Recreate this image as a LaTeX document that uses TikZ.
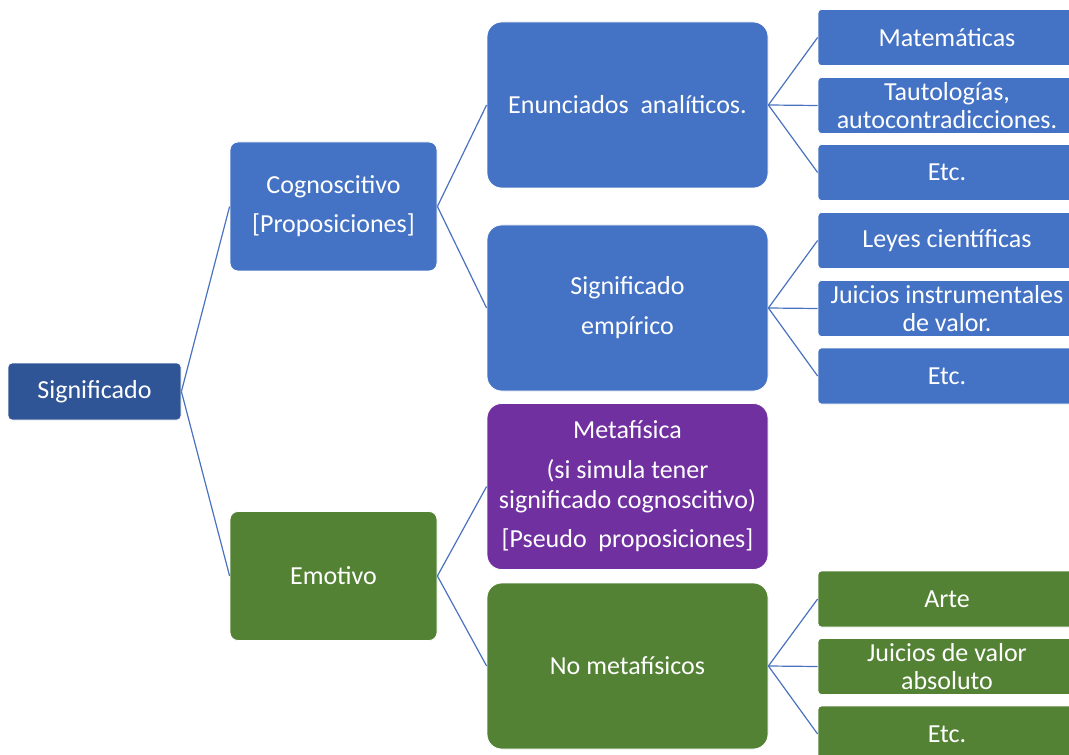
\documentclass[tikz,border=0pt]{standalone}
\usepackage{fontspec}
\setmainfont{Carlito}
\definecolor{dblue}{HTML}{2F5597}
\definecolor{mblue}{HTML}{4472C4}
\definecolor{mgreen}{HTML}{548235}
\definecolor{mpurple}{HTML}{7030A0}
\definecolor{lnk}{HTML}{4A72C0}
\tikzset{
 box/.style={draw=white, line width=0.6pt, text=white, align=center, inner sep=0pt, font=\fontsize{19.5}{21}\selectfont},
 root/.style={box, rounded corners=3pt, minimum width=129.75pt, minimum height=42.75pt},
 mid/.style={box, rounded corners=6pt, minimum width=155.25pt, minimum height=96.75pt, font=\fontsize{19.5}{29.25}\selectfont},
 big/.style={box, rounded corners=11pt, minimum width=210.75pt, minimum height=124.5pt, font=\fontsize{19.5}{22.5}\selectfont},
 leaf/.style={box, rounded corners=2.5pt, minimum width=193.5pt, minimum height=42pt},
 link/.style={draw=lnk, line width=0.9pt},
}
\begin{document}
\begin{tikzpicture}[x=0.75pt,y=-0.75pt]
\clip (0,0) rectangle (1069,755);
\fill[white] (0,0) rectangle (1069,755);
% root
\node[root, fill=dblue] (sig) at (94.5,391.5) {Significado};
% level 1
\node[mid, fill=mblue] (cog) at (333.5,206.5) {Cognoscitivo\\{}[Proposiciones]};
\node[mid, fill=mgreen] (emo) at (333.5,576) {Emotivo};
% level 2
\node[big, fill=mblue] (ena) at (627.5,105) {Enunciados\ \ analíticos.};
\node[big, fill=mblue] (emp) at (627.5,308) {Significado\\[7.5pt]empírico};
\node[big, fill=mpurple] (met) at (627.5,486.5) {Metafísica\\[7.5pt](si simula tener\\significado cognoscitivo)\\[6.75pt]{}[Pseudo\ \ proposiciones]};
\node[big, fill=mgreen] (nom) at (627.5,666) {No metafísicos};
% leaves
\node[leaf, fill=mblue] (mat) at (947,37.5) {Matemáticas};
\node[leaf, fill=mblue] (tau) at (947,105.5) {Tautologías,\\autocontradicciones.};
\node[leaf, fill=mblue] (etc1) at (947,172.5) {Etc.};
\node[leaf, fill=mblue] (ley) at (947,240.5) {Leyes científicas};
\node[leaf, fill=mblue] (jui) at (947,308.5) {Juicios instrumentales\\de valor.};
\node[leaf, fill=mblue] (etc2) at (947,376) {Etc.};
\node[leaf, fill=mgreen] (art) at (947,599) {Arte};
\node[leaf, fill=mgreen] (jva) at (947,666.5) {Juicios de valor\\absoluto};
\node[leaf, fill=mgreen] (etc3) at (947,734) {Etc.};
% links
\draw[link] (sig.east) -- (cog.west);
\draw[link] (sig.east) -- (emo.west);
\draw[link] (cog.east) -- (ena.west);
\draw[link] (cog.east) -- (emp.west);
\draw[link] (emo.east) -- (met.west);
\draw[link] (emo.east) -- (nom.west);
\foreach \c in {mat,tau,etc1} \draw[link] (ena.east) -- (\c.west);
\foreach \c in {ley,jui,etc2} \draw[link] (emp.east) -- (\c.west);
\foreach \c in {art,jva,etc3} \draw[link] (nom.east) -- (\c.west);
\end{tikzpicture}
\end{document}
